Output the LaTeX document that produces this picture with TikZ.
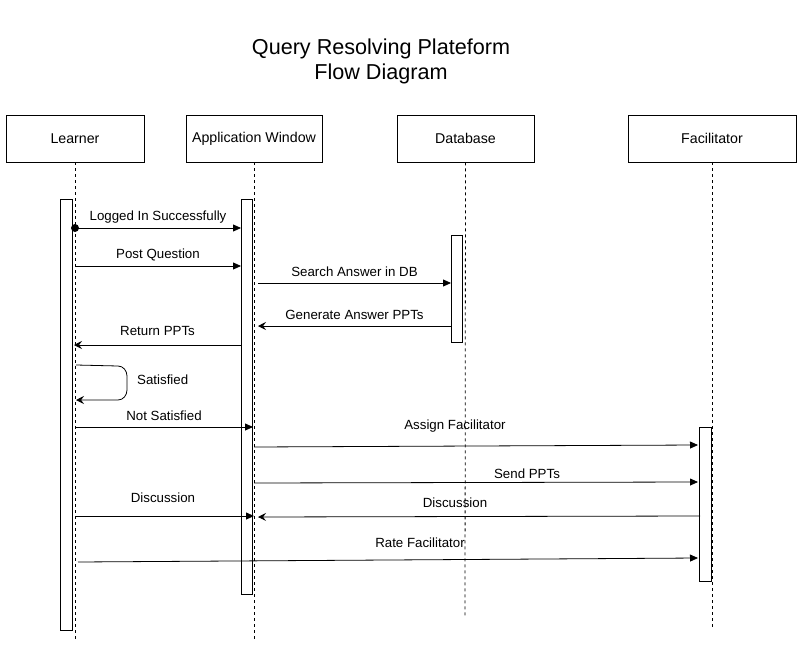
\documentclass[tikz,border=0pt]{standalone}
\usepackage{fontspec}
\setmainfont{Liberation Sans}
\usetikzlibrary{arrows.meta}
\begin{document}
\begin{tikzpicture}[x=1pt,y=-1pt,
  actor/.style={draw,line width=0.8pt,fill=white,minimum width=#1,minimum height=47pt,inner sep=0pt,font=\fontsize{14.2}{17}\selectfont},
  lifeline/.style={dashed,line width=0.8pt,dash pattern=on 3pt off 3pt},
  actbar/.style={draw,line width=0.8pt,fill=white},
  msg/.style={line width=0.8pt,-{Triangle[length=8pt,width=7pt]}},
  ret/.style={line width=0.8pt,-{Stealth[length=8pt,width=8pt,inset=3pt]}},
  lbl/.style={font=\fontsize{13.3}{16}\selectfont,inner sep=0pt}]
\useasboundingbox (0,0) rectangle (803,650);
\node[font=\fontsize{21.6}{25.5}\selectfont,align=center] (title) at (381,61.5) {Query Resolving Plateform\\Flow Diagram};
% actors
\node[actor=138pt] (L) at (75,138.5) {Learner};
\node[actor=136pt] (A) at (254,138.5) {Application Window};
\node[actor=137pt] (D) at (465.5,138.5) {Database};
\node[actor=168pt] (F) at (712,138.5) {Facilitator};
% lifelines
\coordinate (Le) at (75,640);
\coordinate (Ae) at (254,640);
\coordinate (De) at (465,618);
\coordinate (Fe) at (712,628);
\draw[lifeline] (L.south) -- (Le);
\draw[lifeline] (A.south) -- (Ae);
\draw[lifeline] (D.south) -- (De);
\draw[lifeline] (F.south) -- (Fe);
% activation bars
\node[actbar,minimum width=12pt,minimum height=431pt,inner sep=0pt] (Lb) at (66,414.5) {};
\node[actbar,minimum width=11pt,minimum height=395pt,inner sep=0pt] (Ab) at (246.5,396.5) {};
\node[actbar,minimum width=11pt,minimum height=107pt,inner sep=0pt] (Db) at (456.5,288.5) {};
\node[actbar,minimum width=12pt,minimum height=154pt,inner sep=0pt] (Fb) at (705,504) {};
% message 1
\coordinate (m1a) at (75,228); \coordinate (m1b) at (241,228);
\fill (m1a) circle (4pt);
\draw[msg] (m1a) -- (m1b) node[lbl,midway,above=4pt] {Logged In Successfully};
% message 2
\coordinate (m2a) at (75,266); \coordinate (m2b) at (241,266);
\draw[msg] (m2a) -- (m2b) node[lbl,midway,above=5pt] {Post Question};
% message 3
\coordinate (m3a) at (258,283); \coordinate (m3b) at (451,283);
\draw[msg] (m3a) -- (m3b) node[lbl,midway,above=6pt] {Search Answer in DB};
% message 4
\coordinate (m4a) at (451,326); \coordinate (m4b) at (258,326);
\draw[ret] (m4a) -- (m4b) node[lbl,midway,above=6pt] {Generate Answer PPTs};
% message 5
\coordinate (m5a) at (241,345); \coordinate (m5b) at (74,345);
\draw[ret] (m5a) -- (m5b) node[lbl,midway,above=9pt] {Return PPTs};
% self loop
\coordinate (s1) at (76,365); \coordinate (s2) at (76,400);
\draw[ret] (s1) -- (118,366) to[out=0,in=90] (127,376) -- (127,390) to[out=-90,in=0] (118,400) -- (s2);
\node[lbl,anchor=west] (sat) at (137,380) {Satisfied};
% message 7
\coordinate (m7a) at (75,427); \coordinate (m7b) at (253,427);
\draw[msg] (m7a) -- (m7b) node[lbl,midway,above=6pt] {Not Satisfied};
% message 8
\coordinate (m8a) at (254,447); \coordinate (m8b) at (698,445);
\draw[msg] (m8a) -- (m8b);
\node[lbl] (l8) at (455,426) {Assign Facilitator};
% message 9
\coordinate (m9a) at (254,483); \coordinate (m9b) at (698,482);
\draw[msg] (m9a) -- (m9b);
\node[lbl] (l9) at (527,474) {Send PPTs};
% message 10
\coordinate (m10a) at (76,516); \coordinate (m10b) at (254,516);
\draw[msg] (m10a) -- (m10b);
\node[lbl] (l10) at (163,498) {Discussion};
% message 11
\coordinate (m11a) at (700,516); \coordinate (m11b) at (258,517);
\draw[ret] (m11a) -- (m11b);
\node[lbl] (l11) at (455,503) {Discussion};
% message 12
\coordinate (m12a) at (78,562); \coordinate (m12b) at (698,558);
\draw[msg] (m12a) -- (m12b);
\node[lbl] (l12) at (420,543) {Rate Facilitator};
\end{tikzpicture}
\end{document}
